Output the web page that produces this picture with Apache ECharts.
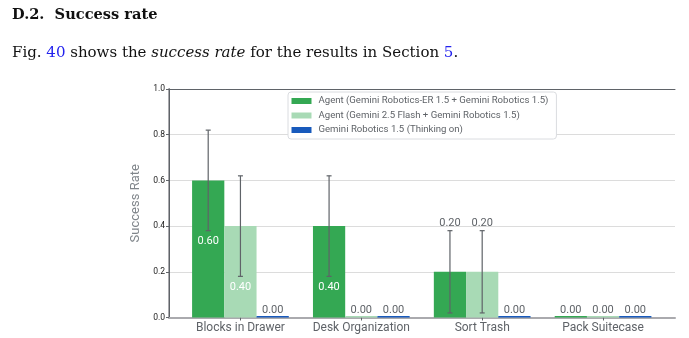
<!DOCTYPE html>
<html><head><meta charset="utf-8">
<script src="https://cdn.jsdelivr.net/npm/echarts@6/dist/echarts.min.js"></script>
<style>
html,body{margin:0;padding:0;background:#fff;}
#wrap{position:relative;width:689px;height:338px;overflow:hidden;}
#chart{position:absolute;left:0;top:0;width:689px;height:338px;}
#h{position:absolute;left:12px;top:5px;font-family:"DejaVu Serif",serif;font-weight:bold;font-size:14.6px;color:#111;white-space:nowrap;}
#p{position:absolute;left:12px;top:43px;font-family:"DejaVu Serif",serif;font-size:15px;color:#111;white-space:nowrap;}
#p a{color:#2222ee;text-decoration:none;}
</style></head>
<body><div id="wrap"><div id="chart"></div>
<div id="h">D.2.&nbsp;&nbsp;Success rate</div>
<div id="p">Fig. <a>40</a> shows the <i>success rate</i> for the results in Section <a>5</a>.</div>
</div>
<script>
const categories = ['Blocks in Drawer', 'Desk Organization', 'Sort Trash', 'Pack Suitecase'];
const seriesNames = ['Agent (Gemini Robotics-ER 1.5 + Gemini Robotics 1.5)', 'Agent (Gemini 2.5 Flash + Gemini Robotics 1.5)', 'Gemini Robotics 1.5 (Thinking on)'];
const erValues = [0.60, 0.40, 0.20, 0.00];
const erErrors = [0.22, 0.22, 0.18, 0.00];
const flashValues = [0.40, 0.00, 0.20, 0.00];
const flashErrors = [0.22, 0.00, 0.18, 0.00];
const thinkValues = [0.00, 0.00, 0.00, 0.00];
const thinkErrors = [0.00, 0.00, 0.00, 0.00];
const yTicks = [0, 0.2, 0.4, 0.6, 0.8, 1.0];
const colors = ['#34A853', '#A8DAB5', '#185ABC'];

const allValues = [erValues, flashValues, thinkValues];
const allErrors = [erErrors, flashErrors, thinkErrors];
const FONT = 'Roboto';
const BAR_FRAC = 0.8 / 3;

const chart = echarts.init(document.getElementById('chart'), null, {renderer: 'canvas'});

function errSeries(si) {
  const data = categories.map((c, i) => [i, allValues[si][i], allErrors[si][i]]);
  return {
    type: 'custom', xAxisIndex: 2, yAxisIndex: 2, z: 5, silent: true,
    data: data,
    renderItem: function (params, api) {
      const idx = api.value(0), v = api.value(1), e = api.value(2);
      const band = api.size([1, 0])[0];
      const off = band * BAR_FRAC * (si - 1);
      const base = api.coord([idx, v]);
      const x = base[0] + off;
      const children = [];
      let labelY, labelColor;
      if (e > 0) {
        const top = api.coord([idx, v + e])[1];
        const bot = api.coord([idx, v - e])[1];
        const st = {stroke: '#5f6368', lineWidth: 1.2};
        children.push({type: 'line', shape: {x1: x, y1: top, x2: x, y2: bot}, style: st});
        children.push({type: 'line', shape: {x1: x - 2.5, y1: top, x2: x + 2.5, y2: top}, style: st});
        children.push({type: 'line', shape: {x1: x - 2.5, y1: bot, x2: x + 2.5, y2: bot}, style: st});
        if (v - e > 0.1) { labelY = bot + 11; labelColor = '#ffffff'; }
        else { labelY = top - 7.5; labelColor = '#5f6368'; }
      } else {
        labelY = base[1] - 7.5; labelColor = '#5f6368';
      }
      children.push({type: 'text', style: {x: x, y: labelY, text: v.toFixed(2), fill: labelColor,
        font: '11px ' + FONT, align: 'center', verticalAlign: 'middle'}});
      return {type: 'group', children: children};
    }
  };
}

const option = {
  animation: false,
  textStyle: {fontFamily: FONT},
  grid: [
    {left: 169, right: 14, top: 89, bottom: 20.5},
    {left: 180, right: 25.5, top: 89, bottom: 20.5}
  ],
  legend: {
    orient: 'vertical', left: 288, top: 92,
    itemWidth: 20, itemHeight: 6, itemGap: 4.5,
    padding: [4, 8, 4, 3.5],
    backgroundColor: '#fff', borderColor: '#dadce0', borderWidth: 1, borderRadius: 3,
    textStyle: {fontSize: 9.6, color: '#5f6368', fontFamily: FONT, padding: [0, 0, 0, 2]},
    icon: 'rect',
    data: seriesNames
  },
  xAxis: [
    {gridIndex: 0, type: 'value', min: 0, max: 1, position: 'bottom',
      axisLine: {show: true, onZero: false, lineStyle: {color: '#aaaaae', width: 2}},
      axisTick: {show: false}, axisLabel: {show: false}, splitLine: {show: false}},
    {gridIndex: 0, type: 'value', min: 0, max: 1, position: 'top',
      axisLine: {show: true, onZero: false, lineStyle: {color: '#5f6368', width: 1}},
      axisTick: {show: false}, axisLabel: {show: false}, splitLine: {show: false}},
    {gridIndex: 1, type: 'category', data: categories,
      axisLine: {show: false},
      axisTick: {show: true, alignWithLabel: true, length: 3, lineStyle: {color: '#5f6368'}},
      axisLabel: {fontSize: 12, color: '#5f6368', margin: 4, interval: 0, fontFamily: FONT}}
  ],
  yAxis: [
    {gridIndex: 0, type: 'value', min: 0, max: 1, interval: 0.2,
      name: 'Success Rate', nameLocation: 'middle', nameGap: 21, nameRotate: 90,
      nameTextStyle: {fontSize: 13, color: '#80868b', fontFamily: FONT},
      axisLine: {show: true, lineStyle: {color: '#aaaaae', width: 2}},
      axisTick: {show: true, length: 3, lineStyle: {color: '#5f6368'}},
      axisLabel: {fontSize: 8.5, color: '#222', margin: 4, formatter: v => v.toFixed(1)},
      splitLine: {show: true, lineStyle: {color: '#dcdcdc', width: 1}}},
    {gridIndex: 0, type: 'value', min: 0, max: 1, position: 'right',
      axisLine: {show: true, lineStyle: {color: '#5f6368', width: 1}},
      axisTick: {show: false}, axisLabel: {show: false}, splitLine: {show: false}},
    {gridIndex: 1, type: 'value', min: 0, max: 1, show: false}
  ],
  series: [0, 1, 2].map(si => ({
    name: seriesNames[si], type: 'bar', xAxisIndex: 2, yAxisIndex: 2,
    data: allValues[si], barWidth: (BAR_FRAC * 100).toFixed(3) + '%', barGap: '0%',
    barMinHeight: 1.5, itemStyle: {color: colors[si]}, z: 3
  })).concat([0, 1, 2].map(errSeries))
};
chart.setOption(option);
</script></body></html>
